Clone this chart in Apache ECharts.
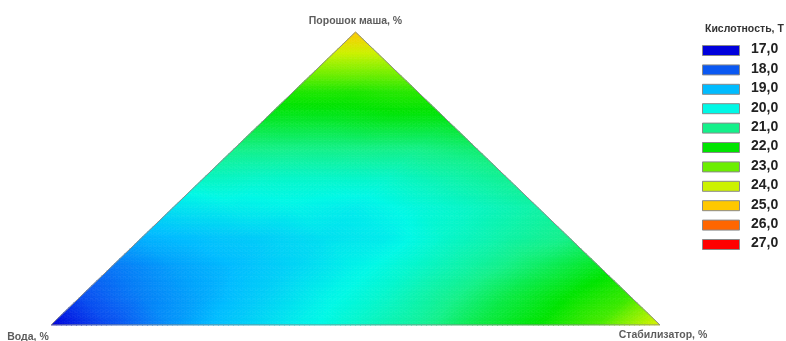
<!DOCTYPE html>
<html>
<head>
<meta charset="utf-8">
<script src="https://cdn.jsdelivr.net/npm/echarts@6/dist/echarts.min.js"></script>
<style>
  html, body { margin: 0; padding: 0; background: #fff; }
  #chart { width: 786px; height: 341px; }
</style>
</head>
<body>
<div id="chart"></div>
<script>
// Кислотность, °Т, at the nodes of a ternary grid with a 10 % step.
// Each row has a fixed share of "Порошок маша" (0 %, 10 %, ... 100 %);
// inside a row the share of "Стабилизатор" grows from 0 % to the maximum.
const powder0   = [17.0, 17.9, 18.6, 19.2, 19.8, 20.3, 20.8, 21.5, 22.0, 22.7, 24.2];
const powder10  = [17.9, 18.4, 18.8, 19.3, 19.9, 20.3, 20.9, 21.5, 22.0, 22.5];
const powder20  = [18.3, 18.7, 19.0, 19.4, 19.9, 20.3, 20.8, 21.3, 21.8];
const powder30  = [18.9, 19.1, 19.3, 19.6, 19.8, 20.3, 20.7, 21.0];
const powder40  = [19.6, 19.8, 19.9, 19.8, 20.1, 20.4, 20.7];
const powder50  = [20.4, 20.3, 20.3, 20.3, 20.6, 20.9];
const powder60  = [21.0, 21.0, 21.0, 21.0, 21.2];
const powder70  = [21.7, 21.7, 21.8, 21.8];
const powder80  = [22.3, 22.3, 22.4];
const powder90  = [23.6, 23.6];
const powder100 = [25.0];
const acidityRows = [powder0, powder10, powder20, powder30, powder40, powder50,
                     powder60, powder70, powder80, powder90, powder100];

// Contour levels of the colour scale
const levels = [17, 18, 19, 20, 21, 22, 23, 24, 25, 26, 27];
const levelLabels = ['17,0', '18,0', '19,0', '20,0', '21,0', '22,0', '23,0', '24,0', '25,0', '26,0', '27,0'];
const levelColors = ['#0000dc', '#0a58f2', '#00bcff', '#00f8e6', '#14f08a', '#00e400',
                     '#6cee00', '#ccf200', '#ffc800', '#ff6600', '#ff0000'];

const scaleTitle = 'Кислотность, Т';
const vertexNames = ['Вода, %', 'Стабилизатор, %', 'Порошок маша, %'];

const FONT = 'Arial, "Liberation Sans", sans-serif';

// --- ternary -> plane: Y = powder share, X = stabiliser share + powder/2
function toXY(i, j) {
  const step = acidityRows.length - 1;
  return [j / step + i / (2 * step), i / step];
}

function hexToRgb(h) {
  return [parseInt(h.slice(1, 3), 16), parseInt(h.slice(3, 5), 16), parseInt(h.slice(5, 7), 16)];
}
const levelRgb = levelColors.map(hexToRgb);

function colorOf(v) {
  const lo = levels[0], hi = levels[levels.length - 1];
  if (v <= lo) return levelColors[0];
  if (v >= hi) return levelColors[levelColors.length - 1];
  const k = Math.floor(v - lo);
  const t = (v - lo) - k;
  const a = levelRgb[k], b = levelRgb[k + 1];
  const c = a.map((x, n) => Math.round(x + (b[n] - x) * t));
  return 'rgb(' + c.join(',') + ')';
}

// Triangular cells of the grid: [x1, y1, v1, x2, y2, v2, x3, y3, v3]
const cells = [];
for (let i = 0; i < acidityRows.length - 1; i++) {
  const row = acidityRows[i], up = acidityRows[i + 1];
  for (let j = 0; j < row.length - 1; j++) {
    cells.push([...toXY(i, j), row[j], ...toXY(i, j + 1), row[j + 1], ...toXY(i + 1, j), up[j]]);
    if (j < up.length - 1) {
      cells.push([...toXY(i, j + 1), row[j + 1], ...toXY(i + 1, j + 1), up[j + 1], ...toXY(i + 1, j), up[j]]);
    }
  }
}

// Shade one cell: split it into small triangles and colour each one
// from the value at its centre (linear within the cell).
function renderCell(params, api) {
  const P = [0, 1, 2].map(k => api.coord([api.value(3 * k), api.value(3 * k + 1)]));
  const V = [0, 1, 2].map(k => api.value(3 * k + 2));
  const n = 12;
  const pt = (r, s) => {
    const w1 = (n - r - s) / n, w2 = s / n, w3 = r / n;
    return {
      p: [w1 * P[0][0] + w2 * P[1][0] + w3 * P[2][0], w1 * P[0][1] + w2 * P[1][1] + w3 * P[2][1]],
      v: w1 * V[0] + w2 * V[1] + w3 * V[2]
    };
  };
  const children = [];
  const tri = (a, b, c) => {
    const col = colorOf((a.v + b.v + c.v) / 3);
    children.push({
      type: 'polygon', silent: true,
      shape: { points: [a.p, b.p, c.p] },
      style: { fill: col, stroke: col, lineWidth: 0.7 }
    });
  };
  for (let r = 0; r < n; r++) {
    for (let s = 0; s < n - r; s++) {
      tri(pt(r, s), pt(r, s + 1), pt(r + 1, s));
      if (r + s <= n - 2) tri(pt(r, s + 1), pt(r + 1, s + 1), pt(r + 1, s));
    }
  }
  return { type: 'group', children };
}

// Colour scale on the right
const legendLeft = 702, legendTop = 45, legendStep = 19.4;
const legendGraphics = [{
  type: 'text', left: 705, top: 24,
  style: { text: scaleTitle, font: 'bold 10.5px ' + FONT, fill: '#333' }
}];
levels.forEach((lv, k) => {
  legendGraphics.push({
    type: 'rect', left: legendLeft, top: legendTop + k * legendStep,
    shape: { width: 37, height: 10 },
    style: { fill: levelColors[k], stroke: '#8a8a8a', lineWidth: 1 }
  });
  legendGraphics.push({
    type: 'text', left: 751, top: legendTop + k * legendStep - 2.5,
    style: { text: levelLabels[k], font: 'bold 14px ' + FONT, fill: '#222' }
  });
});

const chart = echarts.init(document.getElementById('chart'), null, { renderer: 'canvas' });
chart.setOption({
  animation: false,
  backgroundColor: '#fff',
  grid: { left: 51, right: 126, top: 32, bottom: 16 },
  xAxis: { type: 'value', min: 0, max: 1, show: false },
  yAxis: { type: 'value', min: 0, max: 1, show: false },
  graphic: legendGraphics,
  series: [
    {
      type: 'custom',
      renderItem: renderCell,
      data: cells,
      silent: true,
      clip: false
    },
    {
      // outline of the triangle
      type: 'line',
      data: [toXY(0, 0), toXY(0, 10), toXY(10, 0), toXY(0, 0)],
      symbol: 'none',
      silent: true,
      lineStyle: { color: '#8c8c8c', width: 1 },
      z: 3
    },
    {
      // names of the components at the vertices
      type: 'scatter',
      symbolSize: 0,
      silent: true,
      data: [
        { value: toXY(0, 0), name: vertexNames[0],
          label: { position: 'bottom', offset: [-23, 2] } },
        { value: toXY(0, 10), name: vertexNames[1],
          label: { position: 'bottom', offset: [3, 0] } },
        { value: toXY(10, 0), name: vertexNames[2],
          label: { position: 'top', offset: [0, 0] } }
      ],
      label: {
        show: true, formatter: '{b}',
        fontFamily: FONT, fontWeight: 'bold', fontSize: 10.5, color: '#333'
      },
      z: 4
    }
  ]
});
</script>
</body>
</html>
